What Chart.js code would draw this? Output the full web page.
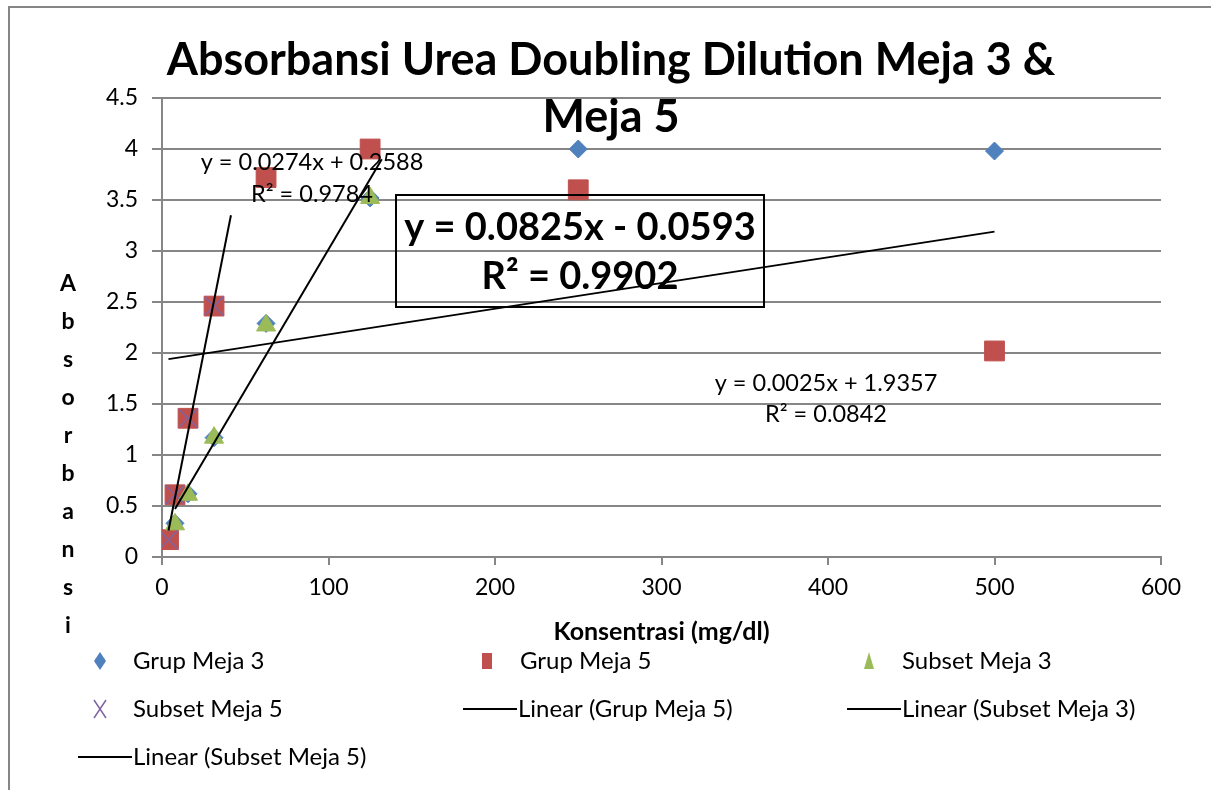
<!DOCTYPE html>
<html>
<head>
<meta charset="utf-8">
<script src="https://cdn.jsdelivr.net/npm/chart.js@4/dist/chart.umd.min.js"></script>
<style>
  body { margin: 0; background: #fff; }
  canvas { display: block; }
</style>
</head>
<body>
<canvas id="chart" width="1211" height="790"></canvas>
<script>
// konsentrasi (mg/dl) - doubling dilution
var konsentrasi = [3.90625, 7.8125, 15.625, 31.25, 62.5, 125, 250, 500];
var grupMeja3   = [null, 0.33, 0.62, 1.17, 2.29, 3.52, 4.00, 3.98];
var grupMeja5   = [0.17, 0.61, 1.36, 2.46, 3.72, 4.00, 3.60, 2.02];
var subsetMeja3 = [null, 0.32, 0.61, 1.17, 2.27, 3.52, null, null];
var subsetMeja5 = [0.17, 0.61, 1.36, 2.46, null, null, null, null];

// trendline end points
var linGrup5X = [3.9, 500],  linGrup5Y = [1.94, 3.19];
var linSub3X  = [7.8, 132],  linSub3Y  = [0.47, 3.90];
var linSub5X  = [3.9, 41.4], linSub5Y  = [0.26, 3.35];

var xTicks = [0, 100, 200, 300, 400, 500, 600];
var yTicks = [0, 0.5, 1, 1.5, 2, 2.5, 3, 3.5, 4, 4.5];

var FONT = 'Lato, "Open Sans", sans-serif';
var GRID = '#868686';

function pts(xs, ys) {
    var out = [];
    xs.forEach(function (x, i) {
        if (ys[i] !== null) out.push({ x: x, y: ys[i] });
    });
    return out;
}

function trend(label, xs, ys) {
    return {
        label: label,
        data: pts(xs, ys),
        showLine: true,
        borderColor: '#000',
        borderWidth: 2,
        pointRadius: 0,
        order: 0
    };
}

// shape drawing for the hand made legend
function marker(ctx, style, x, y) {
    ctx.save();
    if (style == 'diamond') {
        ctx.fillStyle = '#4F81BD';
        ctx.beginPath();
        ctx.moveTo(x, y - 9); ctx.lineTo(x + 6, y); ctx.lineTo(x, y + 9); ctx.lineTo(x - 6, y);
        ctx.closePath(); ctx.fill();
    } else if (style == 'square') {
        ctx.fillStyle = '#C0504D';
        ctx.fillRect(x - 5, y - 8, 10, 16);
    } else if (style == 'triangle') {
        ctx.fillStyle = '#9BBB59';
        ctx.beginPath();
        ctx.moveTo(x, y - 9); ctx.lineTo(x + 5, y + 8); ctx.lineTo(x - 5, y + 8);
        ctx.closePath(); ctx.fill();
    } else if (style == 'x') {
        ctx.strokeStyle = '#8064A2';
        ctx.lineWidth = 1.5;
        ctx.beginPath();
        ctx.moveTo(x - 6, y - 9); ctx.lineTo(x + 6, y + 9);
        ctx.moveTo(x + 6, y - 9); ctx.lineTo(x - 6, y + 9);
        ctx.stroke();
    } else {
        ctx.strokeStyle = '#000';
        ctx.lineWidth = 2;
        ctx.beginPath();
        ctx.moveTo(x - 26, y); ctx.lineTo(x + 28, y);
        ctx.stroke();
    }
    ctx.restore();
}

var extras = {
    id: 'extras',
    beforeDraw: function (chart) {
        var ctx = chart.ctx;
        ctx.save();
        ctx.fillStyle = '#fff';
        ctx.fillRect(0, 0, chart.width, chart.height);
        ctx.strokeStyle = GRID;
        ctx.lineWidth = 2;
        ctx.beginPath();
        ctx.moveTo(9, chart.height + 5);
        ctx.lineTo(9, 7);
        ctx.lineTo(chart.width + 5, 7);
        ctx.stroke();
        ctx.restore();
    },
    afterDraw: function (chart) {
        var ctx = chart.ctx;
        var area = chart.chartArea;
        ctx.save();
        ctx.fillStyle = '#000';
        ctx.textAlign = 'center';
        ctx.textBaseline = 'middle';

        // title, sits over the plot like in the original
        ctx.font = 'bold 45px ' + FONT;
        ctx.fillText('Absorbansi Urea Doubling Dilution Meja 3 &', 611, 60);
        ctx.fillText('Meja 5', 611, 117);

        // axis titles
        ctx.font = 'bold 25px ' + FONT;
        ctx.fillText('Konsentrasi (mg/dl)', (area.left + area.right) / 2, 632);
        ctx.font = 'bold 23px ' + FONT;
        var letters = 'Absorbansi'.split('');
        letters.forEach(function (ch, i) {
            ctx.fillText(ch, 68, 284 + i * 38);
        });

        // trendline equations
        ctx.font = '23.5px ' + FONT;
        ctx.fillText('y = 0.0274x + 0.2588', 312, 162);
        ctx.fillText('R² = 0.9784', 312, 194);
        ctx.fillText('y = 0.0025x + 1.9357', 826, 383);
        ctx.fillText('R² = 0.0842', 826, 414);

        ctx.strokeStyle = '#000';
        ctx.lineWidth = 2;
        ctx.strokeRect(396, 195, 368, 112);
        ctx.font = 'bold 38px ' + FONT;
        ctx.fillText('y = 0.0825x - 0.0593', 580, 228);
        ctx.fillText('R² = 0.9902', 580, 277);

        // legend in three columns
        var items = [
            ['diamond', 'Grup Meja 3', 100, 661],
            ['square', 'Grup Meja 5', 487, 661],
            ['triangle', 'Subset Meja 3', 869, 661],
            ['x', 'Subset Meja 5', 100, 709],
            ['line', 'Linear (Grup Meja 5)', 489, 709],
            ['line', 'Linear (Subset Meja 3)', 873, 709],
            ['line', 'Linear (Subset Meja 5)', 104, 757]
        ];
        ctx.font = '24px ' + FONT;
        ctx.textAlign = 'left';
        items.forEach(function (it) {
            marker(ctx, it[0], it[2], it[3]);
            var tx = it[0] == 'line' ? it[2] + 29 : it[2] + 33;
            ctx.fillText(it[1], tx, it[3]);
        });
        ctx.restore();
    }
};

var chart = new Chart('chart', {
    type: 'scatter',
    data: {
        datasets: [
            trend('Linear (Grup Meja 5)', linGrup5X, linGrup5Y),
            trend('Linear (Subset Meja 3)', linSub3X, linSub3Y),
            trend('Linear (Subset Meja 5)', linSub5X, linSub5Y),
            {
                label: 'Subset Meja 5',
                data: pts(konsentrasi, subsetMeja5),
                pointStyle: 'crossRot',
                pointRadius: 13,
                borderColor: '#8064A2',
                borderWidth: 1.5,
                order: 1
            },
            {
                label: 'Subset Meja 3',
                data: pts(konsentrasi, subsetMeja3),
                pointStyle: 'triangle',
                pointRadius: 11,
                backgroundColor: '#9BBB59',
                borderColor: '#9BBB59',
                borderWidth: 1,
                order: 2
            },
            {
                label: 'Grup Meja 5',
                data: pts(konsentrasi, grupMeja5),
                pointStyle: 'rect',
                pointRadius: 14,
                backgroundColor: '#C0504D',
                borderColor: '#C0504D',
                borderWidth: 1,
                order: 3
            },
            {
                label: 'Grup Meja 3',
                data: pts(konsentrasi, grupMeja3),
                pointStyle: 'rectRot',
                pointRadius: 9,
                backgroundColor: '#4F81BD',
                borderColor: '#4F81BD',
                borderWidth: 1,
                order: 4
            }
        ]
    },
    options: {
        responsive: false,
        animation: false,
        layout: { padding: { left: 102, top: 98, right: 50, bottom: 183 } },
        plugins: {
            legend: { display: false },
            title: { display: false },
            tooltip: { enabled: false }
        },
        scales: {
            x: {
                type: 'linear',
                min: 0,
                max: 600,
                afterFit: function (s) { s.height = 50; },
                afterBuildTicks: function (s) { s.ticks = xTicks.map(function (v) { return { value: v }; }); },
                ticks: { color: '#000', font: { family: FONT, size: 23 }, padding: 9 },
                grid: { drawOnChartArea: false, tickLength: 8, color: GRID, lineWidth: 2 },
                border: { color: GRID, width: 2 }
            },
            y: {
                min: 0,
                max: 4.5,
                afterFit: function (s) { s.width = 60; },
                afterBuildTicks: function (s) { s.ticks = yTicks.map(function (v) { return { value: v }; }); },
                ticks: {
                    color: '#000', font: { family: FONT, size: 23 }, padding: 14,
                    callback: function (v) { return String(v); }
                },
                grid: { tickLength: 10, color: GRID, lineWidth: 2 },
                border: { color: GRID, width: 2 }
            }
        }
    },
    plugins: [extras]
});
</script>
</body>
</html>
